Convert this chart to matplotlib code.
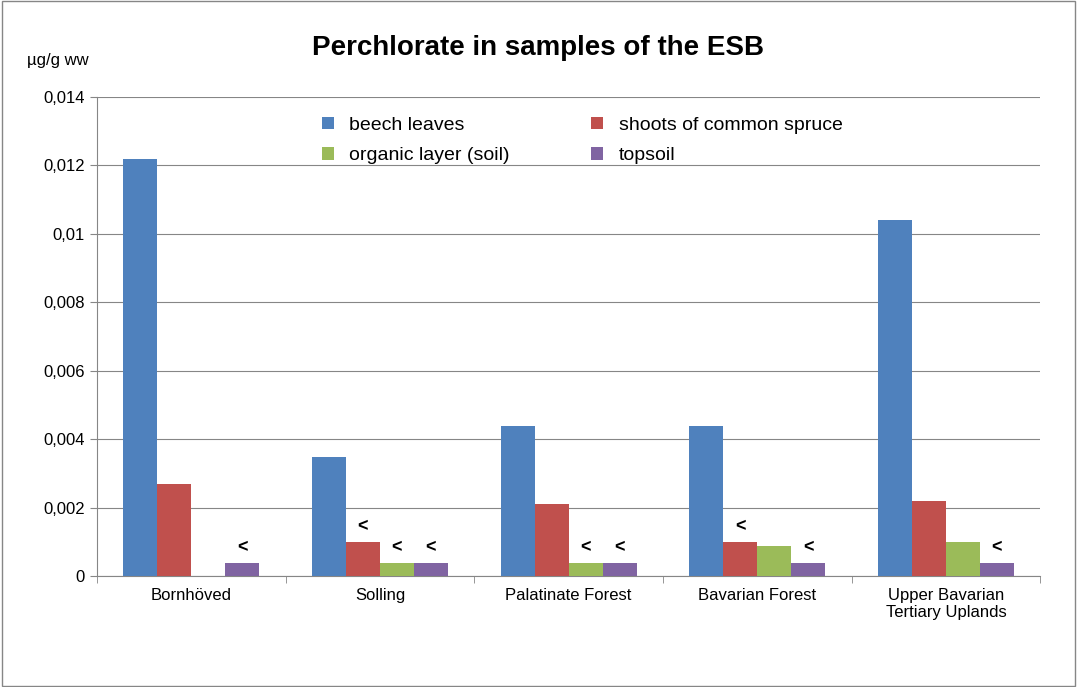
import matplotlib
matplotlib.use("Agg")
import matplotlib.pyplot as plt
import numpy as np

plt.rcParams["font.family"] = "Liberation Sans"

sites = ["Bornhöved", "Solling", "Palatinate Forest", "Bavarian Forest", "Upper Bavarian\nTertiary Uplands"]
series = ["beech leaves", "shoots of common spruce", "organic layer (soil)", "topsoil"]
beech = [0.0122, 0.0035, 0.0044, 0.0044, 0.0104]
spruce = [0.0027, 0.0010, 0.0021, 0.0010, 0.0022]
organic = [0.0, 0.0004, 0.0004, 0.0009, 0.0010]
topsoil = [0.0004, 0.0004, 0.0004, 0.0004, 0.0004]
# "<" (below detection limit) flags per series
below = [
    [False] * 5,
    [False, True, False, True, False],
    [False, True, True, False, False],
    [True, True, True, True, True],
]
colors = ["#4f81bd", "#c0504d", "#9bbb59", "#8064a2"]

fig = plt.figure(figsize=(10.77, 6.87), dpi=100)
ax = fig.add_axes([0.09, 0.161, 0.876, 0.698])
x = np.arange(len(sites))
w = 0.18
handles = []
for i, (name, vals) in enumerate(zip(series, [beech, spruce, organic, topsoil])):
    pos = x + (i - 1.5) * w
    handles.append(ax.bar(pos, vals, w, color=colors[i], label=name, zorder=3))
    for p, v, b in zip(pos, vals, below[i]):
        if b:
            ax.text(p, v + 0.0002, "<", ha="center", va="bottom", fontsize=13, fontweight="bold")

ax.set_xlim(-0.5, len(sites) - 0.5)
ax.set_ylim(0, 0.014)
ax.set_yticks(np.arange(0, 0.0141, 0.002))
ax.set_yticklabels(["0", "0,002", "0,004", "0,006", "0,008", "0,01", "0,012", "0,014"], fontsize=12)
ax.set_xticks(x)
ax.set_xticklabels(sites, fontsize=12)
ax.set_xticks(np.arange(-0.5, len(sites), 1), minor=True)
ax.tick_params(axis="x", which="major", length=0, pad=8)
ax.tick_params(axis="x", which="minor", length=5, color="#868686")
ax.tick_params(axis="y", length=5, color="#868686")
ax.grid(axis="y", color="#868686", linewidth=0.8, zorder=0)
for s in ["top", "right"]:
    ax.spines[s].set_visible(False)
for s in ["left", "bottom"]:
    ax.spines[s].set_color("#868686")

fig.text(0.5, 0.92, "Perchlorate in samples of the ESB", ha="center", fontsize=20, fontweight="bold")
fig.text(0.025, 0.905, "µg/g ww", fontsize=12)
order = [0, 2, 1, 3]
ax.legend([handles[i] for i in order], [series[i] for i in order],
          loc="upper left", bbox_to_anchor=(0.22, 0.995), ncol=2, frameon=False, fontsize=14,
          handlelength=0.6, handleheight=0.6, columnspacing=4.2, labelspacing=0.7)

fig.add_artist(plt.Rectangle((0.002, 0.002), 0.996, 0.996, transform=fig.transFigure,
                             fill=False, edgecolor="#868686", linewidth=1))
fig.savefig("out.png", dpi=100)
